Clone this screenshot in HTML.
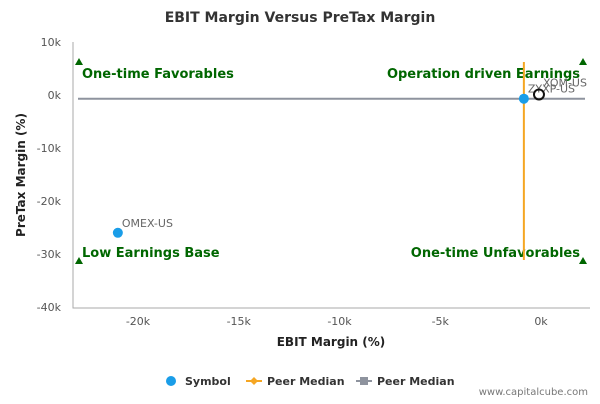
<!DOCTYPE html>
<html><head><meta charset="utf-8"><style>
body{margin:0;background:#fff;font-family:"DejaVu Sans",sans-serif}
svg text{font-family:"DejaVu Sans",sans-serif}
</style></head><body>
<svg id="c" width="600" height="400">
<text x="300" y="22" text-anchor="middle" font-size="14" font-weight="bold" fill="#333">EBIT Margin Versus PreTax Margin</text>
<g id="grid"></g>
<text x="331" y="346" text-anchor="middle" font-size="12" font-weight="bold" fill="#222">EBIT Margin (%)</text>
<text transform="translate(25,175) rotate(-90)" text-anchor="middle" font-size="12" font-weight="bold" fill="#222">PreTax Margin (%)</text>
<g font-size="13" font-weight="bold" fill="#006600">
<text x="82" y="78">One-time Favorables</text>
<text x="580" y="78" text-anchor="end">Operation driven Earnings</text>
<text x="82" y="257">Low Earnings Base</text>
<text x="580" y="257" text-anchor="end">One-time Unfavorables</text>
</g>
<g id="marks"></g>
<g font-size="11" font-weight="bold" fill="#333">
<circle cx="171" cy="381" r="5" fill="#1a9de8"/>
<text x="185" y="385">Symbol</text>
<line x1="246" y1="381" x2="262" y2="381" stroke="#f5a623" stroke-width="2"/>
<path d="M254 377 L258 381 L254 385 L250 381Z" fill="#f5a623"/>
<text x="267" y="385">Peer Median</text>
<line x1="356" y1="381" x2="372" y2="381" stroke="#8e939e" stroke-width="2"/>
<rect x="360" y="377" width="8" height="8" fill="#8e939e"/>
<text x="377" y="385">Peer Median</text>
</g>
<text x="588" y="395" text-anchor="end" font-size="10" fill="#777">www.capitalcube.com</text>
</svg>
<script>
const xTicks=[-20,-15,-10,-5,0];
const yTicks=[10,0,-10,-20,-30,-40];
const symbols=["OMEX-US","ZYXP-US","XOM-US"];
const ebit=[-21,-0.85,-0.1];
const pretax=[-26,-0.7,0.1];
const peerMedianX=-0.85;
const peerMedianY=-0.7;
const NS="http://www.w3.org/2000/svg";
const X=v=>541+v*20.15;
const Y=v=>95-v*5.3;
const L=73,R=590,T=42,B=308;
function mk(t,a,p){const e=document.createElementNS(NS,t);for(const k in a)e.setAttribute(k,a[k]);p.appendChild(e);return e;}
const g=document.getElementById('grid'),m=document.getElementById('marks');
let ax=mk('path',{d:`M${L} ${T} L${L} ${B} L${R} ${B}`,fill:'none',stroke:'#aaa'},g);


xTicks.forEach(v=>{const t=mk('text',{x:X(v),y:B+17,'text-anchor':'middle','font-size':11,fill:'#555'},g);t.textContent=v+'k';

});
yTicks.forEach(v=>{const t=mk('text',{x:L-12,y:Y(v)+4,'text-anchor':'end','font-size':11,fill:'#555'},g);t.textContent=v+'k';

});
[[79,62],[583,62],[79,261],[583,261]].forEach(p=>{const t=mk('path',{d:`M${p[0]} ${p[1]-4} L${p[0]+4} ${p[1]+3} L${p[0]-4} ${p[1]+3}Z`,fill:'#006600'},g);

});
let hl=mk('line',{x1:78,x2:585,y1:Y(peerMedianY),y2:Y(peerMedianY),stroke:'#8e939e','stroke-width':2},m);


let vl=mk('line',{x1:X(peerMedianX),x2:X(peerMedianX),y1:62,y2:260,stroke:'#f5a623','stroke-width':2},m);


symbols.forEach((s,i)=>{const own=s==="XOM-US";
const c=mk('circle',{cx:X(ebit[i]),cy:Y(pretax[i]),r:5,fill:own?'none':'#1a9de8',stroke:own?'#111':'none','stroke-width':2},m);


const t=mk('text',{x:X(ebit[i])+4,y:Y(pretax[i])-(own?8:6),'font-size':11,fill:'#666'},m);t.textContent=s;

});
</script>
</body></html>
